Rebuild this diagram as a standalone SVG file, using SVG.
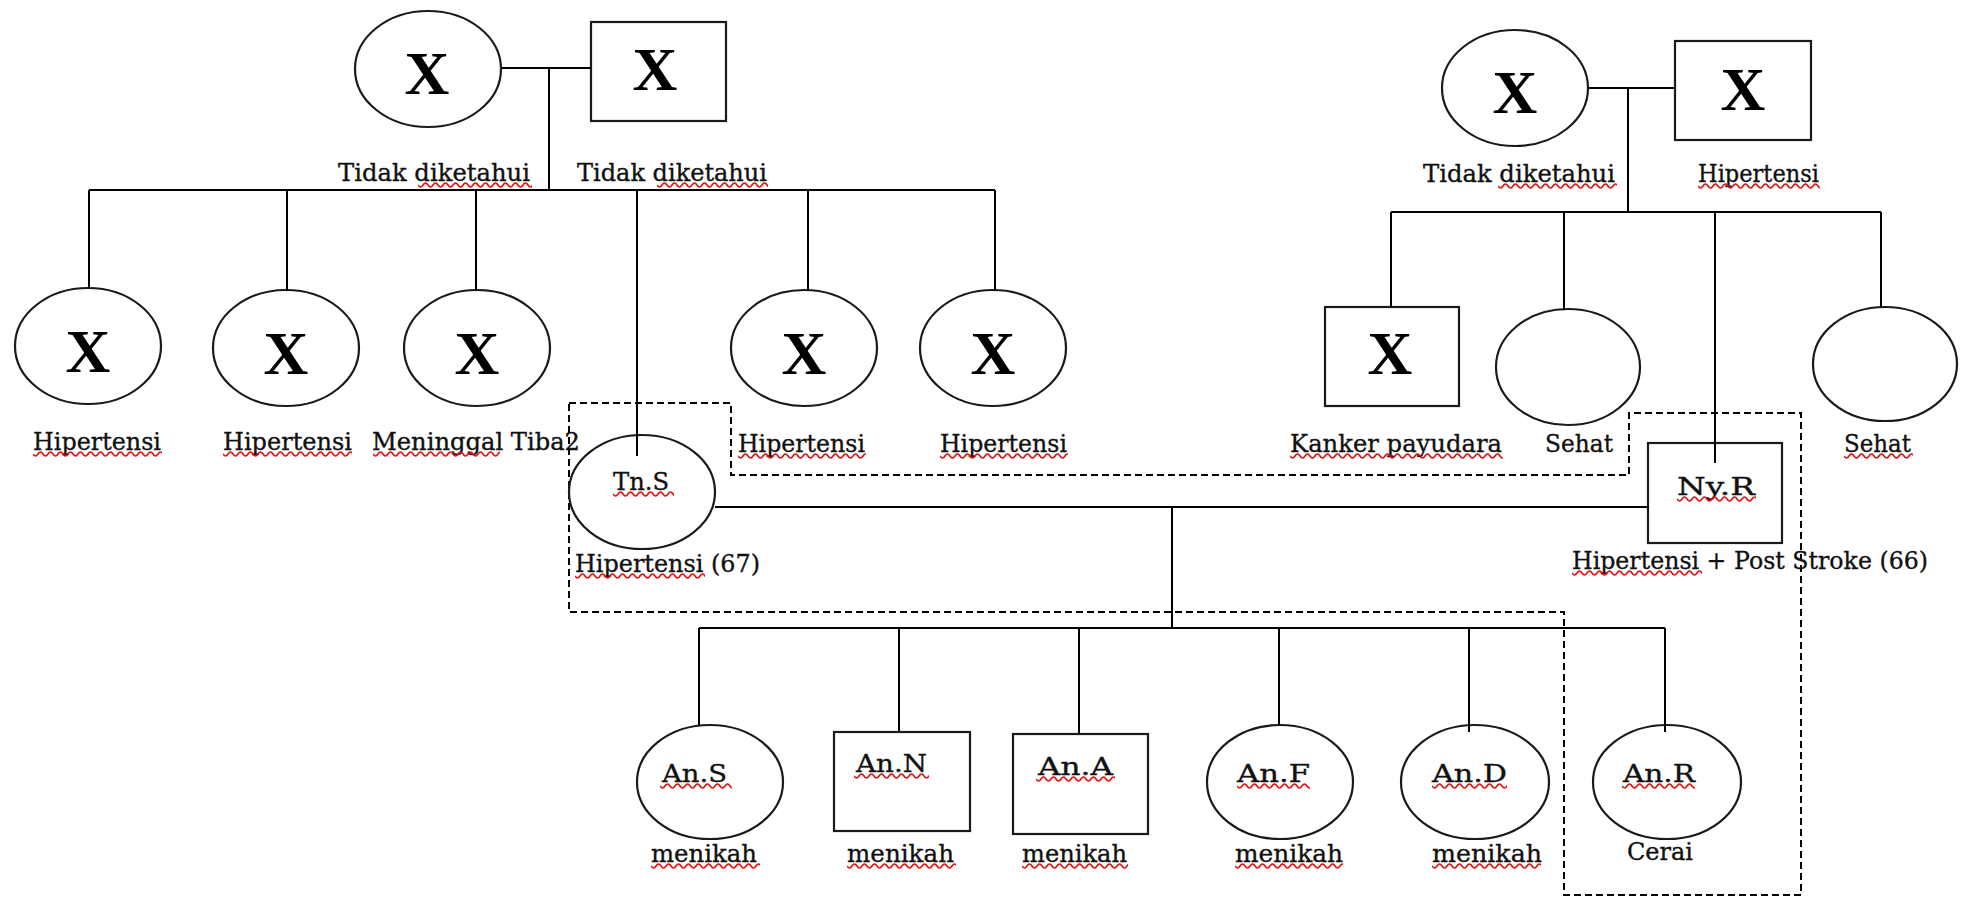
<svg xmlns="http://www.w3.org/2000/svg" width="1966" height="897" viewBox="0 0 1966 897">
<style>
.ln{stroke:#000;stroke-width:2;fill:none}
.nd{fill:none;stroke:#1a1a1a;stroke-width:2.2}
.t{font-family:"DejaVu Serif","Liberation Serif",serif;font-size:25px;fill:#111;stroke:#111;stroke-width:0.35}
.x{font-family:"Liberation Serif","Times New Roman",serif;font-weight:bold;font-size:62px;fill:#000;text-anchor:middle}
.dash{stroke:#000;stroke-width:2;fill:none;stroke-dasharray:7 4}
.wv{fill:none;stroke:#e01010;stroke-width:1.6}
</style>
<defs>
<path id="wv" class="wv" d="M0,3 q2.5,4 5,0 t5,0 t5,0 t5,0 t5,0 t5,0 t5,0 t5,0 t5,0 t5,0 t5,0 t5,0 t5,0 t5,0 t5,0 t5,0 t5,0 t5,0 t5,0 t5,0 t5,0 t5,0 t5,0 t5,0 t5,0 t5,0 t5,0 t5,0 t5,0 t5,0 t5,0 t5,0 t5,0 t5,0 t5,0 t5,0 t5,0 t5,0 t5,0 t5,0 t5,0 t5,0 t5,0 t5,0 t5,0 t5,0 t5,0 t5,0"/>
</defs>
<rect width="1966" height="897" fill="#fff"/>

<g id="household-boundary">
<polygon class="dash" points="569,403 731,403 731,475 1629,475 1629,413 1801,413 1801,895 1564,895 1564,612 569,612"/>
</g>

<!-- Generation 1, left family -->
<g id="gp1">
<ellipse class="nd" cx="428" cy="69" rx="73" ry="58"/>
<text class="x" x="427" y="94">X</text>
<text class="t" x="338" y="181" textLength="192" lengthAdjust="spacingAndGlyphs">Tidak diketahui</text>
<svg x="418" y="182" width="114" height="7"><use href="#wv"/></svg>
</g>
<g id="gp2">
<rect class="nd" x="591" y="22" width="135" height="99"/>
<text class="x" x="655" y="90">X</text>
<text class="t" x="577" y="181" textLength="190" lengthAdjust="spacingAndGlyphs">Tidak diketahui</text>
<svg x="657" y="182" width="111" height="7"><use href="#wv"/></svg>
</g>

<!-- Generation 1, right family -->
<g id="gp3">
<ellipse class="nd" cx="1515" cy="88" rx="73" ry="58"/>
<text class="x" x="1515" y="113">X</text>
<text class="t" x="1423" y="182" textLength="192" lengthAdjust="spacingAndGlyphs">Tidak diketahui</text>
<svg x="1498" y="183" width="119" height="7"><use href="#wv"/></svg>
</g>
<g id="gp4">
<rect class="nd" x="1675" y="41" width="136" height="99"/>
<text class="x" x="1743" y="110">X</text>
<text class="t" x="1698" y="182" textLength="121" lengthAdjust="spacingAndGlyphs">Hipertensi</text>
<svg x="1698" y="183" width="122" height="7"><use href="#wv"/></svg>
</g>

<!-- Generation 2, left family -->
<g id="c1">
<ellipse class="nd" cx="88" cy="346" rx="73" ry="58"/>
<text class="x" x="88" y="372">X</text>
<text class="t" x="33" y="450" textLength="128" lengthAdjust="spacingAndGlyphs">Hipertensi</text>
<svg x="33" y="451" width="129" height="7"><use href="#wv"/></svg>
</g>
<g id="c2">
<ellipse class="nd" cx="286" cy="348" rx="73" ry="58"/>
<text class="x" x="286" y="374">X</text>
<text class="t" x="223" y="450" textLength="129" lengthAdjust="spacingAndGlyphs">Hipertensi</text>
<svg x="223" y="451" width="129" height="7"><use href="#wv"/></svg>
</g>
<g id="c3">
<ellipse class="nd" cx="477" cy="348" rx="73" ry="58"/>
<text class="x" x="477" y="374">X</text>
<text class="t" x="372" y="450" textLength="208" lengthAdjust="spacingAndGlyphs">Meninggal Tiba2</text>
<svg x="373" y="451" width="127" height="7"><use href="#wv"/></svg>
</g>
<g id="tn-s">
<ellipse class="nd" cx="642" cy="492" rx="73" ry="57"/>
<text class="t" x="613" y="490" textLength="56" lengthAdjust="spacingAndGlyphs">Tn.S</text>
<svg x="613" y="491" width="61" height="7"><use href="#wv"/></svg>
<text class="t" x="575" y="572" textLength="185" lengthAdjust="spacingAndGlyphs">Hipertensi (67)</text>
<svg x="575" y="573" width="130" height="7"><use href="#wv"/></svg>
</g>
<g id="c5">
<ellipse class="nd" cx="804" cy="348" rx="73" ry="58"/>
<text class="x" x="804" y="374">X</text>
<text class="t" x="738" y="452" textLength="127" lengthAdjust="spacingAndGlyphs">Hipertensi</text>
<svg x="738" y="453" width="128" height="7"><use href="#wv"/></svg>
</g>
<g id="c6">
<ellipse class="nd" cx="993" cy="348" rx="73" ry="58"/>
<text class="x" x="993" y="374">X</text>
<text class="t" x="940" y="452" textLength="127" lengthAdjust="spacingAndGlyphs">Hipertensi</text>
<svg x="940" y="453" width="128" height="7"><use href="#wv"/></svg>
</g>

<!-- Generation 2, right family -->
<g id="c7">
<rect class="nd" x="1325" y="307" width="134" height="99"/>
<text class="x" x="1390" y="374">X</text>
<text class="t" x="1290" y="452" textLength="212" lengthAdjust="spacingAndGlyphs">Kanker payudara</text>
<svg x="1290" y="453" width="213" height="7"><use href="#wv"/></svg>
</g>
<g id="c8">
<ellipse class="nd" cx="1568" cy="367" rx="72" ry="58"/>
<text class="t" x="1545" y="452" textLength="68" lengthAdjust="spacingAndGlyphs">Sehat</text>
</g>
<g id="ny-r">
<rect class="nd" x="1648" y="443" width="134" height="100"/>
<text class="t" x="1677" y="495" textLength="78" lengthAdjust="spacingAndGlyphs">Ny.R</text>
<svg x="1677" y="496" width="79" height="7"><use href="#wv"/></svg>
<text class="t" x="1572" y="569" textLength="356" lengthAdjust="spacingAndGlyphs">Hipertensi + Post Stroke (66)</text>
<svg x="1572" y="570" width="130" height="7"><use href="#wv"/></svg>
</g>
<g id="c10">
<ellipse class="nd" cx="1885" cy="364" rx="72" ry="57"/>
<text class="t" x="1844" y="452" textLength="67" lengthAdjust="spacingAndGlyphs">Sehat</text>
<svg x="1844" y="453" width="69" height="7"><use href="#wv"/></svg>
</g>

<!-- Generation 3 -->
<g id="an-s">
<ellipse class="nd" cx="710" cy="782" rx="73" ry="57"/>
<text class="t" x="662" y="782" textLength="65" lengthAdjust="spacingAndGlyphs">An.S</text>
<svg x="660" y="783" width="72" height="7"><use href="#wv"/></svg>
<text class="t" x="651" y="862" textLength="106" lengthAdjust="spacingAndGlyphs">menikah</text>
<svg x="651" y="863" width="109" height="7"><use href="#wv"/></svg>
</g>
<g id="an-n">
<rect class="nd" x="834" y="732" width="136" height="99"/>
<text class="t" x="856" y="772" textLength="71" lengthAdjust="spacingAndGlyphs">An.N</text>
<svg x="854" y="773" width="75" height="7"><use href="#wv"/></svg>
<text class="t" x="847" y="862" textLength="107" lengthAdjust="spacingAndGlyphs">menikah</text>
<svg x="847" y="863" width="109" height="7"><use href="#wv"/></svg>
</g>
<g id="an-a">
<rect class="nd" x="1013" y="734" width="135" height="100"/>
<text class="t" x="1038" y="775" textLength="75" lengthAdjust="spacingAndGlyphs">An.A</text>
<svg x="1036" y="776" width="79" height="7"><use href="#wv"/></svg>
<text class="t" x="1022" y="862" textLength="105" lengthAdjust="spacingAndGlyphs">menikah</text>
<svg x="1022" y="863" width="106" height="7"><use href="#wv"/></svg>
</g>
<g id="an-f">
<ellipse class="nd" cx="1280" cy="782" rx="73" ry="57"/>
<text class="t" x="1237" y="782" textLength="73" lengthAdjust="spacingAndGlyphs">An.F</text>
<svg x="1237" y="783" width="73" height="7"><use href="#wv"/></svg>
<text class="t" x="1235" y="862" textLength="108" lengthAdjust="spacingAndGlyphs">menikah</text>
<svg x="1235" y="863" width="108" height="7"><use href="#wv"/></svg>
</g>
<g id="an-d">
<ellipse class="nd" cx="1475" cy="782" rx="74" ry="57"/>
<text class="t" x="1432" y="782" textLength="75" lengthAdjust="spacingAndGlyphs">An.D</text>
<svg x="1432" y="783" width="75" height="7"><use href="#wv"/></svg>
<text class="t" x="1432" y="862" textLength="110" lengthAdjust="spacingAndGlyphs">menikah</text>
<svg x="1432" y="863" width="109" height="7"><use href="#wv"/></svg>
</g>
<g id="an-r">
<ellipse class="nd" cx="1667" cy="782" rx="74" ry="57"/>
<text class="t" x="1623" y="782" textLength="72" lengthAdjust="spacingAndGlyphs">An.R</text>
<svg x="1622" y="783" width="73" height="7"><use href="#wv"/></svg>
<text class="t" x="1627" y="860" textLength="66" lengthAdjust="spacingAndGlyphs">Cerai</text>
</g>

<g id="connectors">
<path class="ln" d="M501,68 H591 M549,68 V190 M89,190 H995"/>
<path class="ln" d="M89,190 V288 M287,190 V291 M476,190 V291 M637,190 V456 M808,190 V291 M995,190 V291"/>
<path class="ln" d="M1588,88 H1675 M1628,88 V212 M1391,212 H1881"/>
<path class="ln" d="M1391,212 V307 M1564,212 V310 M1715,212 V463 M1881,212 V307"/>
<path class="ln" d="M715,507 H1649 M1172,507 V628 M699,628 H1665"/>
<path class="ln" d="M699,628 V725 M899,628 V732 M1079,628 V734 M1279,628 V725 M1469,628 V732 M1665,628 V732"/>
</g>
</svg>
